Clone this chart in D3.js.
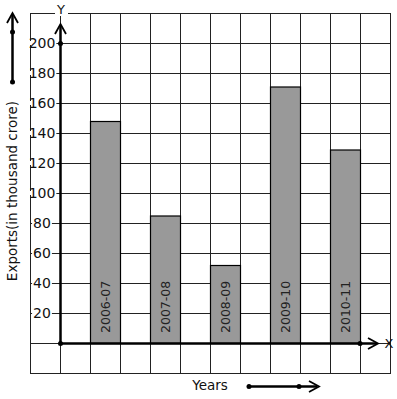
<!DOCTYPE html>
<html>
<head>
<meta charset="utf-8">
<script src="https://cdn.jsdelivr.net/npm/d3@7"></script>
<style>
body { margin: 0; background: #fff; }
svg { display: block; font-family: "DejaVu Sans", sans-serif; }
</style>
</head>
<body>
<div id="chart"></div>
<script>
const years = ["2006-07", "2007-08", "2008-09", "2009-10", "2010-11"]
const exports = [148, 85, 52, 171, 129]
const yTicks = [20, 40, 60, 80, 100, 120, 140, 160, 180, 200]

const width = 397
const height = 399

const svg = d3.select("div#chart").append("svg").attr("width", width).attr("height", height)

// y: 15px per 10 units, origin at 343
const y = d3.scaleLinear().domain([0, 200]).range([343, 43])
// grid columns, 30px each
const col = d3.scaleLinear().domain([0, 12]).range([30, 390])
const x = d3.scaleBand().domain(years).range([75, 375]).paddingInner(0.5).paddingOuter(0.25)

const grid = svg.append("g").attr("class", "grid").attr("stroke", "#222").attr("stroke-width", 1)
d3.range(0, 13).forEach(i => {
    grid.append("line")
        .attr("x1", col(i) + 0.5).attr("x2", col(i) + 0.5)
        .attr("y1", y(220)).attr("y2", y(-20))
})
d3.range(-20, 221, 20).forEach(v => {
    grid.append("line")
        .attr("x1", col(0)).attr("x2", col(12) + 1)
        .attr("y1", y(v) + 0.5).attr("y2", y(v) + 0.5)
})

// bars
const bars = svg.append("g").attr("class", "bars")
bars.selectAll("rect").data(years).enter()
    .append("rect")
    .attr("x", d => x(d) + 0.5)
    .attr("y", (d, i) => y(exports[i]) + 0.5)
    .attr("width", x.bandwidth())
    .attr("height", (d, i) => y(0) - y(exports[i]))
    .attr("fill", "#999")
    .attr("stroke", "#000")
    .attr("stroke-width", 1.2)

bars.selectAll("text").data(years).enter()
    .append("text")
    .attr("transform", d => `translate(${x(d) + x.bandwidth() / 2 + 5}, ${y(0) - 10}) rotate(-90)`)
    .attr("font-size", 12.5)
    .attr("fill", "#222")
    .text(d => d)

// y tick labels with white backing
const ticks = svg.append("g").attr("class", "ticks")
yTicks.forEach(t => {
    const txt = ticks.append("text")
        .attr("x", col(0) + 12)
        .attr("y", y(t) + 5)
        .attr("text-anchor", "middle")
        .attr("font-size", 14)
        .attr("fill", "#111")
        .text(t)
    const bb = txt.node().getBBox()
    ticks.insert("rect", "text")
        .attr("x", bb.x - 1).attr("y", y(t) - 2)
        .attr("width", bb.width + 2).attr("height", 4)
        .attr("fill", "#fff")
})

// axes
const axes = svg.append("g").attr("stroke", "#000").attr("fill", "none").attr("stroke-width", 2.5)
axes.append("line").attr("x1", col(1) + 0.5).attr("x2", col(1) + 0.5).attr("y1", y(0)).attr("y2", 25)
axes.append("path").attr("d", `M${col(1) - 5},34 L${col(1) + 0.5},24 L${col(1) + 6},34`).attr("stroke-width", 1.8)
axes.append("line").attr("x1", col(1)).attr("x2", 377).attr("y1", y(0) + 0.5).attr("y2", y(0) + 0.5)
axes.append("path").attr("d", `M368,${y(0) - 5} L378,${y(0) + 0.5} L368,${y(0) + 6}`).attr("stroke-width", 1.8)

const dots = [[col(1) + 0.5, y(0) + 0.5], [col(1) + 0.5, y(200) + 0.5], [col(11), y(0) + 0.5]]
svg.append("g").selectAll("circle").data(dots).enter()
    .append("circle").attr("cx", d => d[0]).attr("cy", d => d[1]).attr("r", 2.5).attr("fill", "#000")

// axis letters
svg.append("rect").attr("x", 55).attr("y", 2).attr("width", 13).attr("height", 14).attr("fill", "#fff")
svg.append("text").attr("x", col(1) + 1).attr("y", 14).attr("text-anchor", "middle")
    .attr("font-size", 13).attr("fill", "#111").text("Y")
svg.append("text").attr("x", 389).attr("y", y(0) + 5).attr("text-anchor", "middle")
    .attr("font-size", 13).attr("fill", "#111").text("X")

// y title and its arrow
svg.append("text")
    .attr("transform", `translate(17, 191) rotate(-90)`)
    .attr("text-anchor", "middle")
    .attr("font-size", 13.5).attr("fill", "#111")
    .text("Exports(in thousand crore)")
const side = svg.append("g").attr("stroke", "#000").attr("fill", "none")
side.append("line").attr("x1", 12.5).attr("x2", 12.5).attr("y1", 82).attr("y2", 15).attr("stroke-width", 2.5)
side.append("path").attr("d", "M7,23 L12.5,13 L18,23").attr("stroke-width", 1.8)
svg.append("g").selectAll("circle").data([[12.5, 32], [12.5, 82]]).enter()
    .append("circle").attr("cx", d => d[0]).attr("cy", d => d[1]).attr("r", 2.5).attr("fill", "#000")

// x title and its arrow
svg.append("text").attr("x", 210).attr("y", 390).attr("text-anchor", "middle")
    .attr("font-size", 13.5).attr("fill", "#111").text("Years")
const bottom = svg.append("g").attr("stroke", "#000").attr("fill", "none")
bottom.append("line").attr("x1", 249).attr("x2", 317).attr("y1", 386.5).attr("y2", 386.5).attr("stroke-width", 2.5)
bottom.append("path").attr("d", "M309,381 L319,386.5 L309,392").attr("stroke-width", 1.8)
svg.append("g").selectAll("circle").data([[249, 386.5], [299, 386.5]]).enter()
    .append("circle").attr("cx", d => d[0]).attr("cy", d => d[1]).attr("r", 2.5).attr("fill", "#000")
</script>
</body>
</html>
